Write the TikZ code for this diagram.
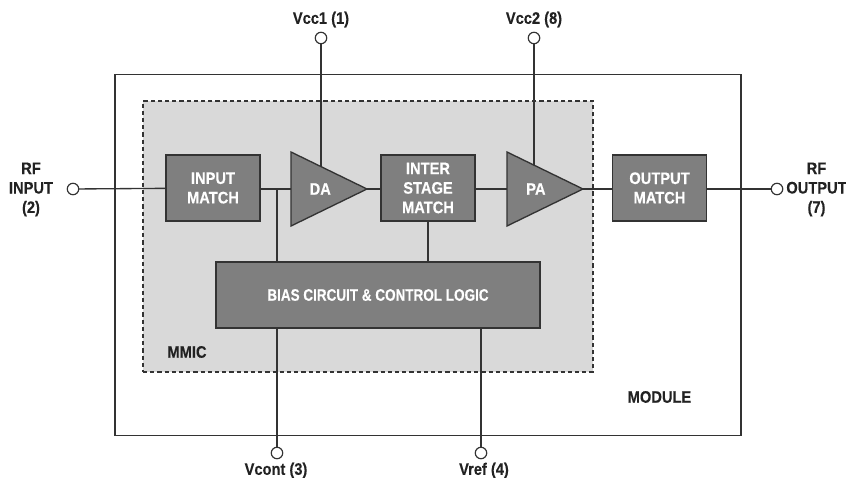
\documentclass[tikz,border=0pt]{standalone}
\usepackage{fontspec}
\setmainfont[FakeStretch=0.88,FakeBold=0.25]{Liberation Sans}
\newfontfamily\biasfont[FakeStretch=0.81,FakeBold=0.25]{Liberation Sans}
\usetikzlibrary{shapes.geometric,backgrounds}
\definecolor{boxgray}{HTML}{7F7F7F}
\definecolor{chipgray}{HTML}{D9D9D9}
\definecolor{ink}{HTML}{333333}
\definecolor{txt}{HTML}{222222}
\pgfdeclarelayer{back}
\pgfdeclarelayer{wires}
\pgfsetlayers{back,wires,main}
\tikzset{
  x=0.75pt,y=-0.75pt,
  wire/.style={draw=ink,line width=1.0pt},
  blockbox/.style={draw=ink,line width=1.0pt,fill=boxgray,text=white,font=\bfseries\fontsize{12.5}{14.6}\selectfont,align=center,inner sep=0pt,outer sep=0pt},
  ampbox/.style={blockbox,isosceles triangle,isosceles triangle stretches,minimum width=55.5pt,minimum height=57pt,anchor=lower side},
  pin/.style={circle,draw=ink,line width=0.9pt,fill=white,inner sep=0pt,outer sep=0pt,minimum size=8.6pt},
  lbl/.style={text=txt,font=\bfseries\fontsize{12.5}{14.6}\selectfont,align=center,inner sep=0pt,outer sep=0pt},
}
\begin{document}
\begin{tikzpicture}
\useasboundingbox (0,0) rectangle (846,478);
% blocks
\node[blockbox,minimum width=70.5pt,minimum height=49.5pt] (im) at (213,188) {INPUT\\MATCH};
\node[blockbox,minimum width=70.5pt,minimum height=49.5pt] (ism) at (428,188) {INTER\\STAGE\\MATCH};
\node[blockbox,minimum width=70.5pt,minimum height=49.5pt] (om) at (659.5,188) {OUTPUT\\MATCH};
\node[blockbox,minimum width=243pt,minimum height=49.5pt] (bias) at (378,295) {\biasfont\bfseries BIAS CIRCUIT \& CONTROL LOGIC};
\node[ampbox] (da) at (291,189) {\hspace*{6pt}DA};
\node[ampbox] (pa) at (507,189) {\hspace*{6pt}PA};
% pins
\node[pin] (rfin) at (73,189) {};
\node[pin] (rfout) at (777,189) {};
\node[pin] (vcc1) at (321,38) {};
\node[pin] (vcc2) at (534,38) {};
\node[pin] (vcont) at (277,453) {};
\node[pin] (vref) at (481,453) {};
% labels
\node[lbl] (l1) at (31,189.5) {RF\\INPUT\\(2)};
\node[lbl] (l2) at (816.5,189.5) {RF\\OUTPUT\\(7)};
\node[lbl] (l3) at (321,19.5) {Vcc1 (1)};
\node[lbl] (l4) at (534,19.5) {Vcc2 (8)};
\node[lbl] (l5) at (276,470.5) {Vcont (3)};
\node[lbl] (l6) at (484,470.5) {Vref (4)};
\node[lbl] (l7) at (187,352) {MMIC};
\node[lbl] (l8) at (659.5,397) {MODULE};
\begin{pgfonlayer}{back}
  \node[draw=ink,line width=0.9pt,fill=white,minimum width=469.5pt,minimum height=270.75pt,inner sep=0pt] (module) at (428,254.75) {};
  \node[draw=ink,line width=0.8pt,dash pattern=on 3.2pt off 2.2pt,fill=chipgray,minimum width=337.5pt,minimum height=203.25pt,inner sep=0pt] (mmic) at (368,236.5) {};
\end{pgfonlayer}
\begin{pgfonlayer}{wires}
  \draw[wire] (rfin) -- (im);
  \draw[wire] (im.east |- da.lower side) -- (da.lower side);
  \draw[wire] (da.apex) -- (da.apex -| ism.west);
  \draw[wire] (ism.east |- pa.lower side) -- (pa.lower side);
  \draw[wire] (pa.apex) -- (pa.apex -| om.west);
  \draw[wire] (om.east |- rfout) -- (rfout);
  \draw[wire] (bias.north -| vcont) -- (vcont |- da.lower side);
  \draw[wire] (ism) -- (ism |- bias.north);
  \draw[wire] (vcc1) -- (vcc1 |- da.lower side);
  \draw[wire] (vcc2) -- (vcc2 |- pa.lower side);
  \draw[wire] (vcont) -- (vcont |- bias.south);
  \draw[wire] (vref) -- (vref |- bias.south);
\end{pgfonlayer}
\end{tikzpicture}
\end{document}
